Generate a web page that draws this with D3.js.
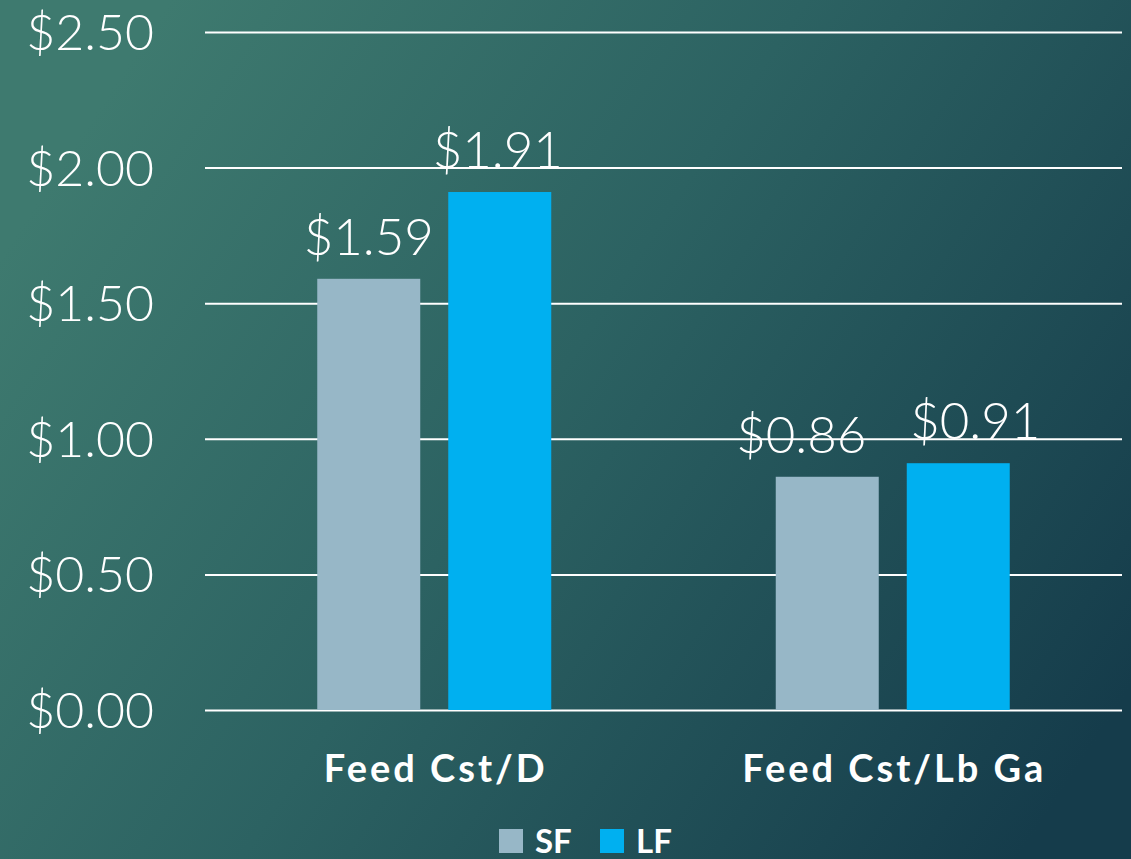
<!DOCTYPE html>
<html><head><meta charset="utf-8">
<script src="https://cdn.jsdelivr.net/npm/d3@7"></script>
<style>html,body{margin:0;padding:0;background:#2a5e60;}svg{display:block;}</style>
</head><body>
<svg id="chart" width="1131" height="859"></svg>
<script>
const categories = ["Feed Cst/D", "Feed Cst/Lb Ga"];
const seriesNames = ["SF", "LF"];
const sfValues = [1.59, 0.86];
const lfValues = [1.91, 0.91];
const tickValues = [0, 0.5, 1.0, 1.5, 2.0, 2.5];
const colors = {SF: "#97b7c7", LF: "#00b0f0"};

const svg = d3.select("#chart");
const W = 1131, H = 859;
const defs = svg.append("defs");
const grad = defs.append("linearGradient").attr("id","bg")
  .attr("x1","0").attr("y1","0.3").attr("x2","1").attr("y2","0.8");
grad.append("stop").attr("offset","0").attr("stop-color","#3e7a6f");
grad.append("stop").attr("offset","0.45").attr("stop-color","#2c6262");
grad.append("stop").attr("offset","1").attr("stop-color","#153c4b");
svg.append("rect").attr("width",W).attr("height",H).attr("fill","url(#bg)");

const plot = {left:205, right:1122, top:32, bottom:710};
const y = d3.scaleLinear().domain([0,2.5]).range([plot.bottom, plot.top]);
const x0 = d3.scaleBand().domain(categories).range([plot.left, plot.right]).paddingInner(0).paddingOuter(0);
const groupW = 234;
const x1 = d3.scaleBand().domain(seriesNames).range([0, groupW]).paddingInner(28/131).paddingOuter(0);

const fontLight = "'Lato', 'Open Sans', sans-serif";
// manual label nudges (layout, as in the original slide)
const labelNudge = {"Feed Cst/D": {SF: 0, LF: -2}, "Feed Cst/Lb Ga": {SF: -26, LF: 17}};

// gridlines via axis
const yAxis = d3.axisLeft(y).tickValues(tickValues).tickSize(-(plot.right-plot.left)).tickFormat(d => "$" + d3.format(".2f")(d));
const ga = svg.append("g").attr("transform",`translate(${plot.left},0)`).call(yAxis);
ga.select(".domain").remove();
ga.selectAll(".tick line").attr("stroke","#ffffff").attr("stroke-width",2);
ga.selectAll(".tick text").attr("fill","#ffffff").attr("font-family",fontLight).attr("font-weight",300)
  .attr("font-size",50).attr("x",-51).attr("dy","0.35em").attr("text-anchor","end");

const data = categories.map((c,i)=>({cat:c, vals:[{k:"SF",v:sfValues[i],cat:c},{k:"LF",v:lfValues[i],cat:c}]}));
const groups = svg.selectAll("g.grp").data(data).join("g").attr("class","grp")
  .attr("transform", d => `translate(${x0(d.cat)+x0.bandwidth()/2-groupW/2},0)`);
groups.selectAll("rect").data(d=>d.vals).join("rect")
  .attr("x", d=>x1(d.k)).attr("width", x1.bandwidth())
  .attr("y", d=>y(d.v)).attr("height", d=>y(0)-y(d.v))
  .attr("fill", d=>colors[d.k]);
groups.selectAll("text.val").data(d=>d.vals).join("text").attr("class","val")
  .attr("x", d=>x1(d.k)+x1.bandwidth()/2+labelNudge[d.cat][d.k]).attr("y", d=>y(d.v)-24)
  .attr("text-anchor","middle").attr("fill","#fff").attr("font-family",fontLight).attr("font-weight",300)
  .attr("font-size",51).text(d=>"$"+d3.format(".2f")(d.v));

// category labels
svg.selectAll("text.cat").data(categories).join("text").attr("class","cat")
  .attr("x", d=>x0(d)+x0.bandwidth()/2+1.5).attr("y", 782)
  .attr("text-anchor","middle").attr("fill","#fff").attr("font-family","'Lato', sans-serif").attr("font-weight",700)
  .attr("font-size",38).attr("letter-spacing","3px").text(d=>d);

// legend
const legend = svg.append("g");
const legX = [499, 600];
seriesNames.forEach((s,i)=>{
  legend.append("rect").attr("x",legX[i]).attr("y",829).attr("width",24).attr("height",24).attr("fill",colors[s]);
  legend.append("text").attr("x",legX[i]+36).attr("y",853).attr("fill","#fff").attr("font-family","'Lato', sans-serif")
    .attr("font-weight",700).attr("font-size",33).text(s);
});
</script>
</body></html>
